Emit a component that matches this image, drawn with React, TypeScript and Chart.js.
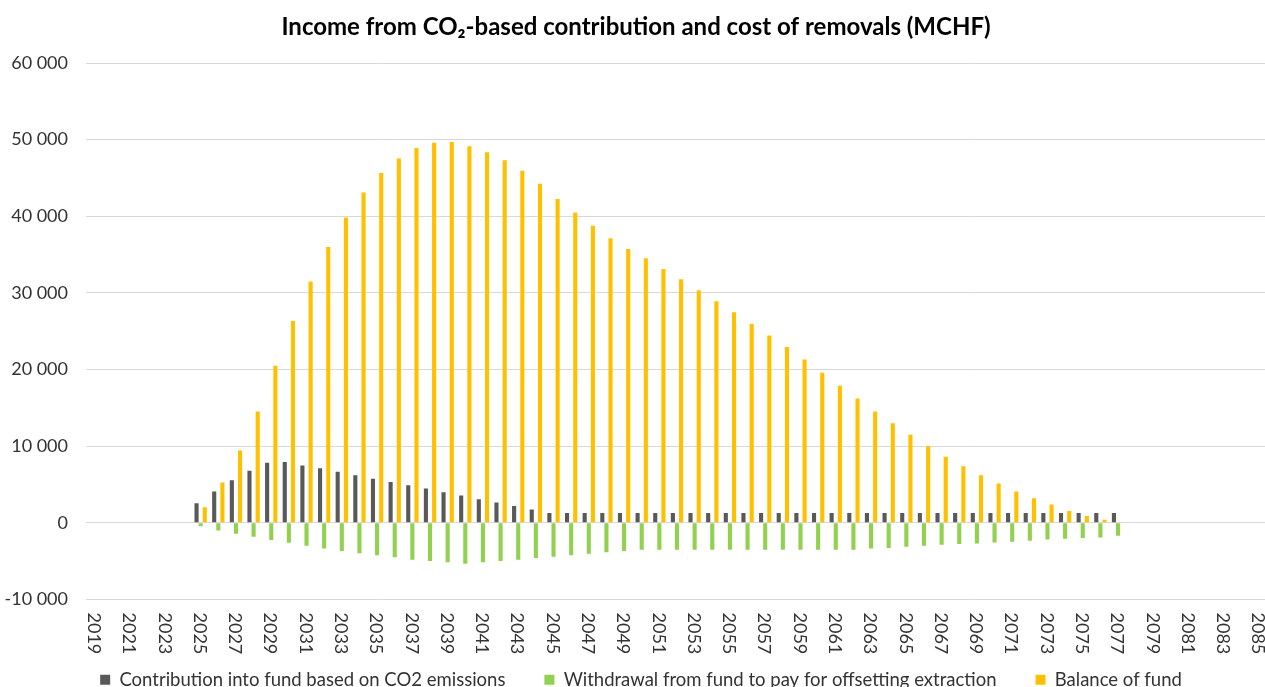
import React, { useEffect, useRef } from "react";
import { Chart, registerables } from "chart.js";

Chart.register(...registerables);

const years = [
  "2019", "2020", "2021", "2022", "2023", "2024", "2025", "2026", "2027", "2028",
  "2029", "2030", "2031", "2032", "2033", "2034", "2035", "2036", "2037", "2038",
  "2039", "2040", "2041", "2042", "2043", "2044", "2045", "2046", "2047", "2048",
  "2049", "2050", "2051", "2052", "2053", "2054", "2055", "2056", "2057", "2058",
  "2059", "2060", "2061", "2062", "2063", "2064", "2065", "2066", "2067", "2068",
  "2069", "2070", "2071", "2072", "2073", "2074", "2075", "2076", "2077", "2078",
  "2079", "2080", "2081", "2082", "2083", "2084", "2085",
];

const yearTickLabels = [
  "2019", "2021", "2023", "2025", "2027", "2029", "2031", "2033", "2035", "2037",
  "2039", "2041", "2043", "2045", "2047", "2049", "2051", "2053", "2055", "2057",
  "2059", "2061", "2063", "2065", "2067", "2069", "2071", "2073", "2075", "2077",
  "2079", "2081", "2083", "2085",
];

// Contribution into fund based on CO2 emissions (MCHF)
const contribution = [
  0, 0, 0, 0, 0, 0,
  2560, 4080, 5550, 6810, 7850, 7930, 7500, 7110, 6680, 6200,
  5770, 5330, 4900, 4470, 3990, 3560, 3080, 2650, 2210, 1740,
  1300, 1300, 1300, 1300, 1300, 1300, 1300, 1300, 1300, 1300,
  1300, 1300, 1300, 1300, 1300, 1300, 1300, 1300, 1300, 1300,
  1300, 1300, 1300, 1300, 1300, 1300, 1300, 1300, 1300, 1300,
  1300, 1300, 1300,
  0, 0, 0, 0, 0, 0, 0, 0,
];

// Withdrawal from fund to pay for offsetting extraction (MCHF)
const withdrawal = [
  0, 0, 0, 0, 0, 0,
  -430, -990, -1430, -1820, -2250, -2600, -2990, -3330, -3680, -3980,
  -4240, -4500, -4810, -4980, -5150, -5330, -5150, -4980, -4810, -4590,
  -4420, -4240, -4030, -3850, -3680, -3510, -3510, -3510, -3510, -3510,
  -3510, -3510, -3510, -3510, -3510, -3510, -3510, -3510, -3330, -3270,
  -3120, -2990, -2860, -2770, -2690, -2560, -2470, -2340, -2170, -2080,
  -1990, -1910, -1690,
  0, 0, 0, 0, 0, 0, 0, 0,
];

// Balance of fund (MCHF)
const balance = [
  0, 0, 0, 0, 0, 0,
  2040, 5250, 9450, 14530, 20500, 26350, 31500, 35980, 39840, 43090,
  45640, 47550, 48900, 49600, 49680, 49150, 48340, 47300, 45950, 44260,
  42270, 40490, 38760, 37150, 35720, 34510, 33120, 31780, 30350, 28920,
  27490, 25970, 24450, 22940, 21330, 19600, 17900, 16220, 14530, 13010,
  11490, 10010, 8630, 7370, 6200, 5120, 4080, 3210, 2390, 1560,
  910, 390, 0,
  0, 0, 0, 0, 0, 0, 0, 0,
];

const seriesNames = [
  "Contribution into fund based on CO2 emissions",
  "Withdrawal from fund to pay for offsetting extraction",
  "Balance of fund",
];
const seriesColors = ["#595959", "#92D050", "#FFC000"];

const FONT = "Lato, 'Open Sans', sans-serif";
const TEXT_COLOR = "#333333";

function formatThousands(v: number): string {
  const s = Math.abs(v).toString().replace(/\B(?=(\d{3})+(?!\d))/g, " ");
  return (v < 0 ? "-" : "") + s;
}

const verticalYearLabels = {
  id: "verticalYearLabels",
  afterDraw(chart: any) {
    const { ctx, chartArea } = chart;
    const x = chart.scales.x;
    ctx.save();
    ctx.font = `18px ${FONT}`;
    ctx.fillStyle = TEXT_COLOR;
    ctx.textAlign = "left";
    ctx.textBaseline = "middle";
    yearTickLabels.forEach((lab) => {
      const idx = years.indexOf(lab);
      const px = x.getPixelForValue(idx);
      ctx.save();
      ctx.translate(px - 1, chartArea.bottom + 13);
      ctx.rotate(Math.PI / 2);
      ctx.fillText(lab, 0, 0);
      ctx.restore();
    });
    ctx.restore();
  },
};

const legendShift = {
  id: "legendShift",
  afterLayout(chart: any) {
    if (chart.legend) {
      chart.legend.left += 5;
      chart.legend.right += 5;
    }
  },
};

export default function App() {
  const canvasRef = useRef<HTMLCanvasElement | null>(null);

  useEffect(() => {
    if (!canvasRef.current) return;
    const chart = new Chart(canvasRef.current, {
      type: "bar",
      data: {
        labels: years,
        datasets: [
          { label: seriesNames[0], data: contribution, backgroundColor: seriesColors[0], borderWidth: 0 },
          { label: seriesNames[1], data: withdrawal, backgroundColor: seriesColors[1], borderWidth: 0 },
          { label: seriesNames[2], data: balance, backgroundColor: seriesColors[2], borderWidth: 0 },
        ],
      },
      options: {
        responsive: false,
        animation: false,
        maintainAspectRatio: false,
        layout: { padding: { left: 4, right: 0, top: 0, bottom: -12 } },
        datasets: {
          bar: { categoryPercentage: 0.7, barPercentage: 1.0 },
        },
        plugins: {
          title: {
            display: true,
            text: "Income from CO₂-based contribution and cost of removals (MCHF)",
            color: "#000000",
            font: { family: FONT, size: 24, weight: "bold", lineHeight: 1.2 },
            padding: { top: 12.6, bottom: 21.6 },
          },
          legend: {
            display: true,
            position: "bottom",
            labels: {
              boxWidth: 10,
              boxHeight: 10,
              padding: 39,
              color: TEXT_COLOR,
              font: { family: FONT, size: 18.5 },
            },
          },
          tooltip: { enabled: false },
        },
        scales: {
          x: {
            type: "category",
            grid: { display: false },
            border: { display: false },
            ticks: { display: false },
            afterFit: (scale: any) => {
              scale.height = 32;
            },
          },
          y: {
            min: -10000,
            max: 60000,
            grid: { color: "#D9D9D9", lineWidth: 1, drawTicks: false },
            border: { display: false },
            ticks: {
              stepSize: 10000,
              padding: 18,
              color: TEXT_COLOR,
              font: { family: FONT, size: 18 },
              callback: (v: any) => formatThousands(Number(v)),
            },
            afterFit: (scale: any) => {
              scale.width = 82;
            },
          },
        },
      },
      plugins: [verticalYearLabels, legendShift],
    });
    return () => chart.destroy();
  }, []);

  return (
    <div style={{ position: "fixed", left: 0, top: 0, width: "100vw", height: "100vh", overflow: "hidden", background: "#fff" }}>
      <canvas ref={canvasRef} width={1268} height={687} style={{ display: "block" }} />
    </div>
  );
}
